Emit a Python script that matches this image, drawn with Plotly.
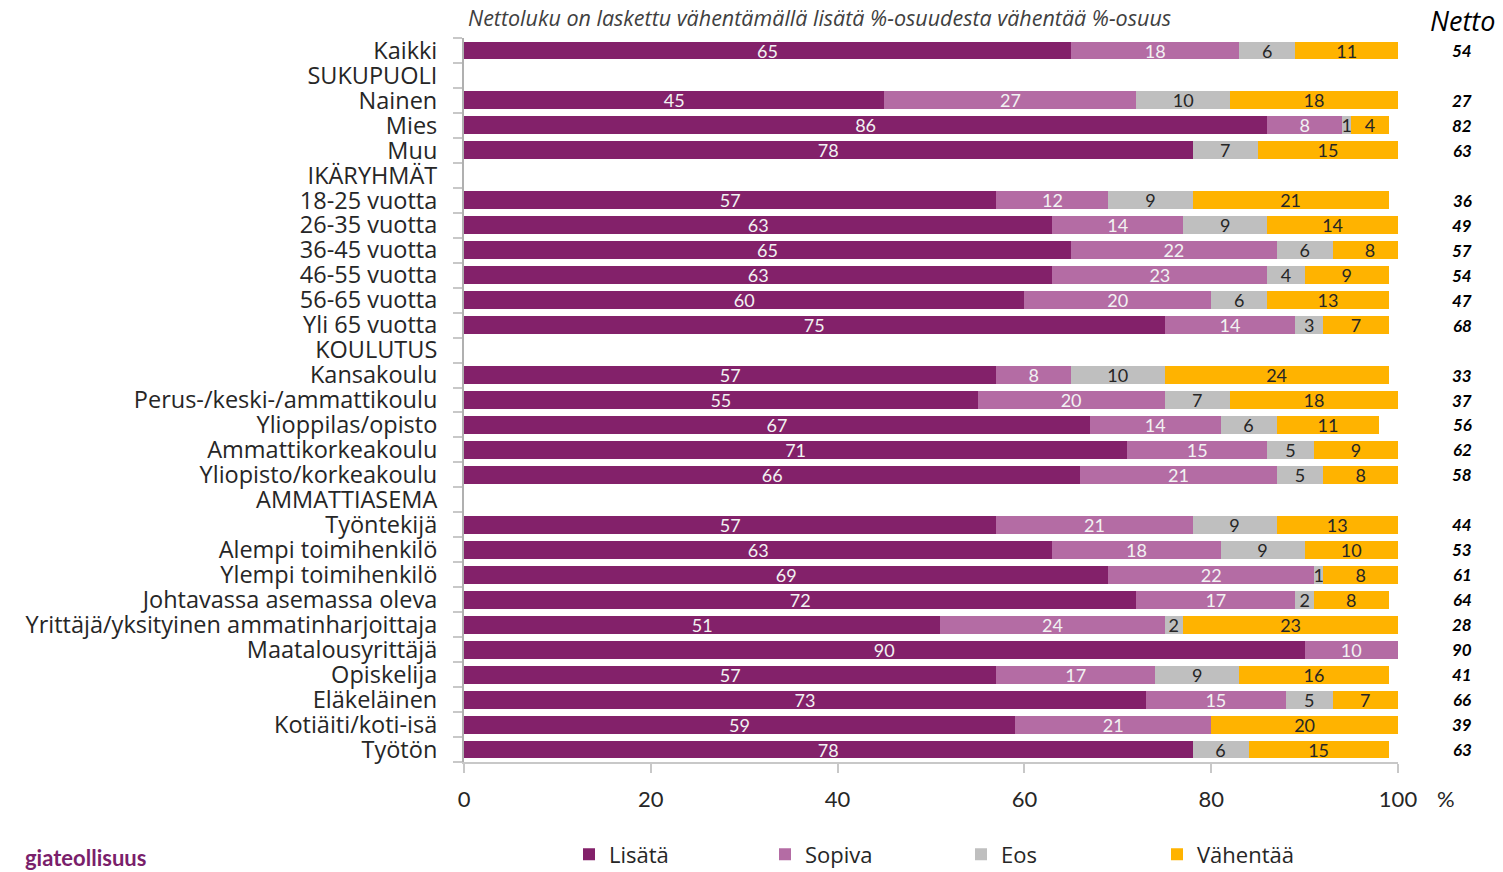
import plotly.graph_objects as go

# Rows from top to bottom; group headers have no bars
categories = [
    "Kaikki", "SUKUPUOLI", "Nainen", "Mies", "Muu",
    "IKÄRYHMÄT", "18-25 vuotta", "26-35 vuotta", "36-45 vuotta", "46-55 vuotta",
    "56-65 vuotta", "Yli 65 vuotta",
    "KOULUTUS", "Kansakoulu", "Perus-/keski-/ammattikoulu", "Ylioppilas/opisto",
    "Ammattikorkeakoulu", "Yliopisto/korkeakoulu",
    "AMMATTIASEMA", "Työntekijä", "Alempi toimihenkilö", "Ylempi toimihenkilö",
    "Johtavassa asemassa oleva", "Yrittäjä/yksityinen ammatinharjoittaja",
    "Maatalousyrittäjä", "Opiskelija", "Eläkeläinen", "Kotiäiti/koti-isä", "Työtön",
]

lisata = [65, None, 45, 86, 78, None, 57, 63, 65, 63, 60, 75, None, 57, 55, 67, 71, 66,
          None, 57, 63, 69, 72, 51, 90, 57, 73, 59, 78]
sopiva = [18, None, 27, 8, None, None, 12, 14, 22, 23, 20, 14, None, 8, 20, 14, 15, 21,
          None, 21, 18, 22, 17, 24, 10, 17, 15, 21, None]
eos = [6, None, 10, 1, 7, None, 9, 9, 6, 4, 6, 3, None, 10, 7, 6, 5, 5,
       None, 9, 9, 1, 2, 2, None, 9, 5, None, 6]
vahentaa = [11, None, 18, 4, 15, None, 21, 14, 8, 9, 13, 7, None, 24, 18, 11, 9, 8,
            None, 13, 10, 8, 8, 23, None, 16, 7, 20, 15]
netto = [54, None, 27, 82, 63, None, 36, 49, 57, 54, 47, 68, None, 33, 37, 56, 62, 58,
         None, 44, 53, 61, 64, 28, 90, 41, 66, 39, 63]

x_ticks = [0, 20, 40, 60, 80, 100]

series = [
    ("Lisätä", lisata, "#83216a", "#f2f2f2"),
    ("Sopiva", sopiva, "#b46ca4", "#f2f2f2"),
    ("Eos", eos, "#bfbfbf", "#262626"),
    ("Vähentää", vahentaa, "#ffb300", "#262626"),
]

FONT = "Open Sans"
NUM_FONT = "Lato"

fig = go.Figure()
for name, vals, color, txtcol in series:
    fig.add_trace(go.Bar(
        name=name, y=categories, x=vals, orientation="h",
        marker=dict(color=color, line=dict(width=0)),
        width=0.72,
        text=[("" if v is None else str(v)) for v in vals],
        textposition="inside", insidetextanchor="middle",
        textangle=0, constraintext="none",
        insidetextfont=dict(family=NUM_FONT, size=18, color=txtcol),
        hoverinfo="skip",
    ))

PLOT_TOP, PLOT_BOTTOM = 37.5, 762.5
PLOT_H = PLOT_BOTTOM - PLOT_TOP
PLOT_L, PLOT_W = 464, 934


def py(px):
    return (PLOT_BOTTOM - px) / PLOT_H


def px_(x):
    return (x - PLOT_L) / PLOT_W


# Net values column
for cat, n in zip(categories, netto):
    if n is None:
        continue
    fig.add_annotation(
        x=px_(1462), xref="paper", y=cat, yref="y",
        text=f"<b><i>{n}</i></b>", showarrow=False,
        font=dict(family=NUM_FONT, size=17, color="#000000"),
        xanchor="center", yanchor="middle",
    )

fig.add_annotation(
    x=px_(466), y=py(17), xref="paper", yref="paper",
    text="<i>Nettoluku on laskettu vähentämällä lisätä %-osuudesta vähentää %-osuus</i>",
    showarrow=False, xanchor="left", yanchor="middle",
    font=dict(family=FONT, size=21.5, color="#404040"),
)
fig.add_annotation(
    x=px_(1462), y=py(20), xref="paper", yref="paper",
    text="<i>Netto</i>", showarrow=False, xanchor="center", yanchor="middle",
    font=dict(family=FONT, size=27, color="#000000"),
)
fig.add_annotation(
    x=px_(1446), y=py(799), xref="paper", yref="paper",
    text="%", showarrow=False, xanchor="center", yanchor="middle",
    font=dict(family=NUM_FONT, size=22, color="#262626"),
)
fig.add_annotation(
    x=px_(148), y=py(858), xref="paper", yref="paper",
    text="<b>giateollisuus</b>", showarrow=False,
    xanchor="right", yanchor="middle",
    font=dict(family=NUM_FONT, size=22, color="#7a1f6b"),
)

fig.update_layout(
    barmode="stack",
    width=1503, height=872,
    margin=dict(l=PLOT_L, r=1503 - PLOT_L - PLOT_W, t=PLOT_TOP, b=872 - PLOT_BOTTOM,
                autoexpand=False),
    paper_bgcolor="white", plot_bgcolor="white",
    font=dict(family=FONT, color="#262626"),
    showlegend=True,
    legend=dict(
        orientation="h", x=px_(569), xanchor="left", y=py(855), yanchor="middle",
        font=dict(family=FONT, size=22, color="#262626"),
        entrywidth=151, entrywidthmode="pixels",
        traceorder="normal", itemclick=False,
    ),
    bargap=0.28,
)

fig.update_xaxes(
    range=[0, 100], tickvals=x_ticks, ticktext=[str(v) for v in x_ticks],
    showgrid=False, zeroline=False,
    showline=True, linecolor="#c8c8c8", linewidth=2,
    ticks="outside", ticklen=9, tickwidth=2, tickcolor="#c8c8c8",
    tickfont=dict(family=NUM_FONT, size=22, color="#262626"),
    ticklabelstandoff=8,
    fixedrange=True,
)
fig.update_yaxes(
    categoryorder="array", categoryarray=categories, autorange="reversed",
    type="category",
    tickmode="array", tickvals=categories, ticktext=categories,
    showgrid=False, zeroline=False,
    showline=True, linecolor="#b0b0b0", linewidth=2,
    ticks="outside", tickson="boundaries", ticklen=9, tickwidth=2, tickcolor="#c8c8c8",
    tickfont=dict(family=FONT, size=23.5, color="#262626"),
    ticklabelstandoff=20,
    fixedrange=True,
)

fig.write_html("out.html", config={"displayModeBar": False})
